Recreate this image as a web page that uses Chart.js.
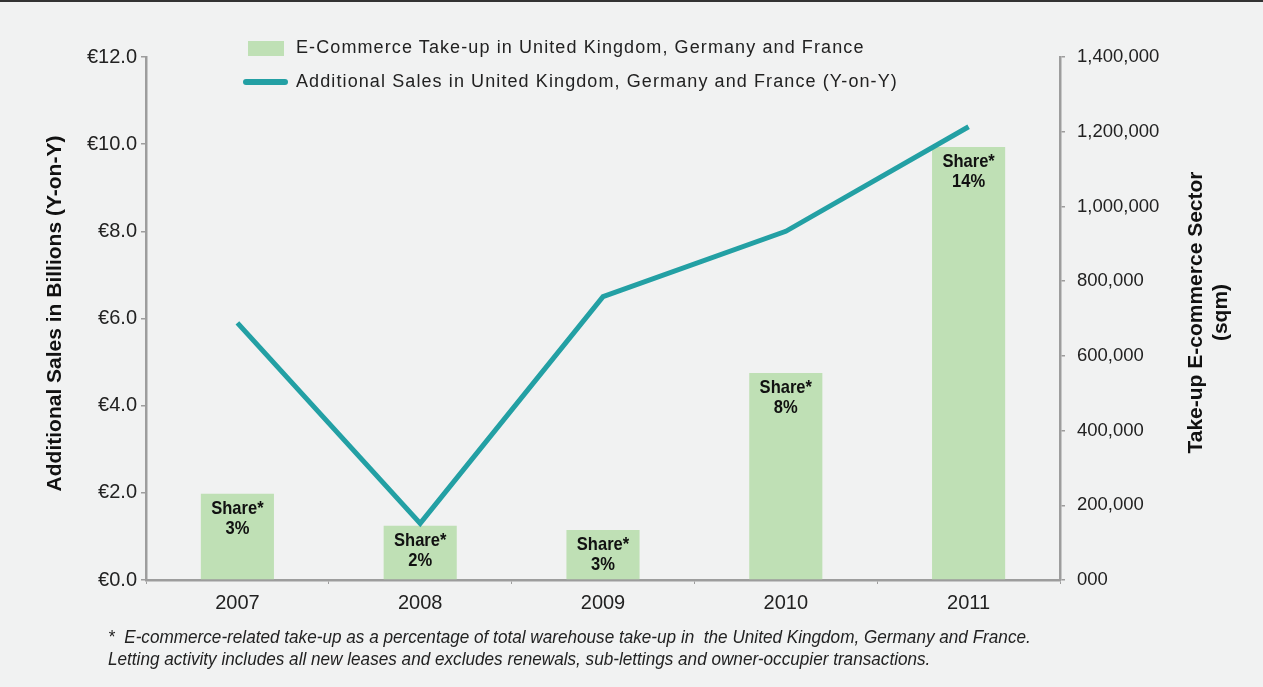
<!DOCTYPE html>
<html>
<head>
<meta charset="utf-8">
<script src="https://cdn.jsdelivr.net/npm/chart.js@4"></script>
<style>
  body { margin: 0; background: #f1f2f2; }
  #wrap { position: relative; width: 1263px; height: 687px; background: #f1f2f2; border-top: 2px solid #333; box-sizing: border-box; overflow: hidden; }
  #myChart { position: absolute; left: 0; top: 0; }
  .legend { position: absolute; left: 243px; font-family: "Liberation Sans", Arial, sans-serif; font-size: 18px; letter-spacing: 1.1px; color: #222; }
  .legend div { height: 34px; line-height: 34px; white-space: nowrap; }
  .sw { display: inline-block; vertical-align: middle; margin-right: 8px; }
  .note { position: absolute; left: 108px; top: 624px; font-family: "Liberation Sans", Arial, sans-serif; font-style: italic; font-size: 17.5px; line-height: 22px; color: #222; transform: scaleX(0.98); transform-origin: left top; white-space: nowrap; }
</style>
</head>
<body>
<div id="wrap">
  <canvas id="myChart" width="1263" height="685"></canvas>
  <div class="legend" style="top:28px">
    <div><span class="sw" style="width:36px;height:15px;background:#bfe0b5;margin-left:5px;margin-right:12px"></span>E-Commerce Take-up in United Kingdom, Germany and France</div>
    <div><span class="sw" style="width:45px;height:6px;border-radius:3px;background:#23a0a4"></span>Additional Sales in United Kingdom, Germany and France (Y-on-Y)</div>
  </div>
  <div class="note">*&nbsp; E-commerce-related take-up as a percentage of total warehouse take-up in&nbsp; the United Kingdom, Germany and France.<br>Letting activity includes all new leases and excludes renewals, sub-lettings and owner-occupier transactions.</div>
</div>
<script>
// data
var years = ['2007', '2008', '2009', '2010', '2011'];
var takeUp = [231000, 145000, 134000, 554000, 1159000];   // sqm, right axis
var sales = [5.9, 1.3, 6.5, 8.0, 10.4];                    // € billions, left axis
var shares = ['3%', '2%', '3%', '8%', '14%'];

var leftTitle = 'Additional Sales in Billions (Y-on-Y)';
var rightTitle = ['Take-up E-commerce Sector', '(sqm)'];

var axisGrey = '#9d9d9d';
var fontMain = '"Liberation Sans", Arial, sans-serif';

// "Share* x%" labels inside the bars (narrowed to look condensed)
var shareLabels = {
    id: 'shareLabels',
    afterDatasetsDraw: function(chart) {
        var ctx = chart.ctx;
        var meta = chart.getDatasetMeta(1);
        meta.data.forEach(function(bar, i) {
            ctx.save();
            ctx.fillStyle = '#111';
            ctx.textAlign = 'center';
            ctx.textBaseline = 'alphabetic';
            ctx.font = 'bold 19px ' + fontMain;
            ctx.translate(bar.x, bar.y);
            ctx.scale(0.87, 1);
            ctx.fillText('Share*', 0, 20);
            ctx.fillText(shares[i], 0, 40);
            ctx.restore();
        });
    }
};

// axis titles, both reading bottom to top
var axisTitles = {
    id: 'axisTitles',
    afterDraw: function(chart) {
        var ctx = chart.ctx;
        var a = chart.chartArea;
        var mid = (a.top + a.bottom) / 2;
        ctx.save();
        ctx.fillStyle = '#111';
        ctx.font = 'bold 21px ' + fontMain;
        ctx.textAlign = 'center';
        ctx.textBaseline = 'middle';
        ctx.translate(55, mid - 5);
        ctx.rotate(-Math.PI / 2);
        ctx.fillText(leftTitle, 0, 0);
        ctx.restore();

        ctx.save();
        ctx.fillStyle = '#111';
        ctx.font = 'bold 21px ' + fontMain;
        ctx.textAlign = 'center';
        ctx.textBaseline = 'middle';
        ctx.translate(1196, mid - 6);
        ctx.rotate(-Math.PI / 2);
        ctx.fillText(rightTitle[0], 0, 0);
        ctx.fillText(rightTitle[1], 0, 25);
        ctx.restore();
    }
};

var ctx = document.getElementById('myChart').getContext('2d');
var myChart = new Chart(ctx, {
    data: {
        labels: years,
        datasets: [
            {
                type: 'line',
                label: 'Additional Sales in United Kingdom, Germany and France (Y-on-Y)',
                data: sales,
                yAxisID: 'y',
                borderColor: '#23a0a4',
                borderWidth: 5,
                pointRadius: 0,
                tension: 0,
                order: 0
            },
            {
                type: 'bar',
                label: 'E-Commerce Take-up in United Kingdom, Germany and France',
                data: takeUp,
                yAxisID: 'y1',
                backgroundColor: '#bfe0b5',
                categoryPercentage: 0.4,
                barPercentage: 1,
                order: 1
            }
        ]
    },
    options: {
        responsive: false,
        animation: false,
        layout: { padding: { top: 55 } },
        plugins: {
            legend: { display: false },
            tooltip: { enabled: false }
        },
        scales: {
            x: {
                offset: true,
                afterFit: function(s) { s.height = 107; },
                grid: { drawOnChartArea: false, tickLength: 4, color: axisGrey, lineWidth: 1 },
                border: { color: axisGrey, width: 2.5 },
                ticks: { color: '#222', padding: 7, font: { family: fontMain, size: 20 } }
            },
            y: {
                position: 'left',
                min: 0,
                max: 12,
                afterFit: function(s) { s.width = 146; },
                grid: { drawOnChartArea: false, tickLength: 5, color: axisGrey, lineWidth: 1.5 },
                border: { color: axisGrey, width: 2.5 },
                ticks: {
                    stepSize: 2,
                    padding: 4,
                    color: '#222',
                    font: { family: fontMain, size: 20 },
                    callback: function(v) { return '€' + v.toFixed(1); }
                }
            },
            y1: {
                position: 'right',
                min: 0,
                max: 1400000,
                afterFit: function(s) { s.width = 203; },
                grid: { drawOnChartArea: false, tickLength: 5, color: axisGrey, lineWidth: 1.5 },
                border: { color: axisGrey, width: 2.5 },
                ticks: {
                    stepSize: 200000,
                    padding: 12,
                    color: '#222',
                    font: { family: fontMain, size: 18.5 },
                    callback: function(v) { return v === 0 ? '000' : v.toLocaleString('en-US'); }
                }
            }
        }
    },
    plugins: [shareLabels, axisTitles]
});
</script>
</body>
</html>
